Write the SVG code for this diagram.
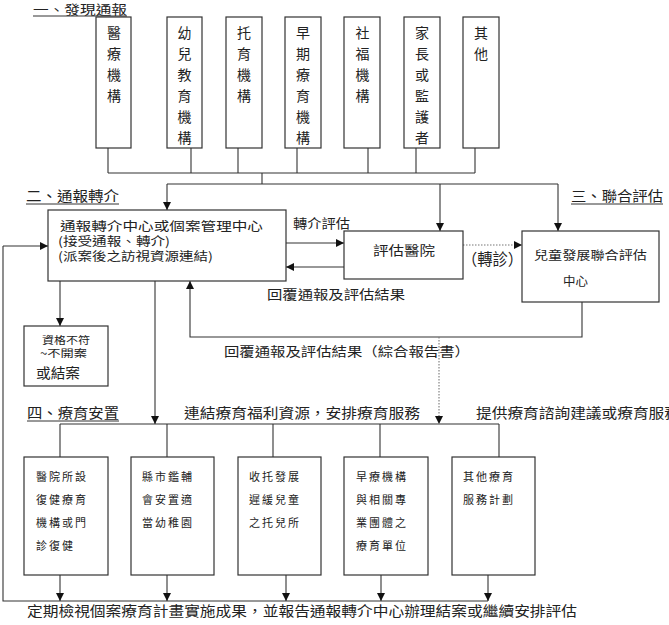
<svg xmlns="http://www.w3.org/2000/svg" width="669" height="625" viewBox="0 0 669 625">
<style>
text{font-family:"Noto Sans CJK TC","Noto Sans CJK SC",sans-serif;fill:#222}
.box{fill:#fff;stroke:#333;stroke-width:1.2}
.ln{fill:none;stroke:#333;stroke-width:1.1}
.dot{fill:none;stroke:#777;stroke-width:1.1;stroke-dasharray:1.5 1.5}
.v{font-size:14px}
.s{font-size:11px}
.m{font-size:13px}
.h{font-size:14px}
.ul{stroke:#333;stroke-width:1}
</style>
<defs>
<marker id="ah" markerUnits="userSpaceOnUse" markerWidth="8" markerHeight="8" refX="8" refY="4" orient="auto">
<path d="M0,0 L8,4 L0,8 z" fill="#111"/>
</marker>
</defs>
<rect width="669" height="625" fill="#fff"/>

<g id="sec-labels">
<text style="font-size:13px" x="33" y="14" textLength="94" lengthAdjust="spacingAndGlyphs">一、發現通報</text>
<line class="ul" x1="33" y1="16" x2="127" y2="16"/>
<text class="h" x="26" y="201" textLength="93" lengthAdjust="spacingAndGlyphs">二、通報轉介</text>
<line class="ul" x1="26" y1="204" x2="119" y2="204"/>
<text class="h" x="571" y="201" textLength="92" lengthAdjust="spacingAndGlyphs">三、聯合評估</text>
<line class="ul" x1="571" y1="204" x2="663" y2="204"/>
<text class="h" x="27" y="418" textLength="92" lengthAdjust="spacingAndGlyphs">四、療育安置</text>
<line class="ul" x1="27" y1="421" x2="119" y2="421"/>
</g>

<g id="connectors">
<path class="ln" d="M108,148 V173 M191,148 V173 M238,148 V173 M297,148 V173 M368,148 V173 M416,148 V173 M475,148 V173 M108,173 H475 M262,173 V184 M167,184 H558"/>
<path class="ln" d="M167,184 V210" marker-end="url(#ah)"/>
<path class="ln" d="M440,184 V231" marker-end="url(#ah)"/>
<path class="ln" d="M558,184 V231" marker-end="url(#ah)"/>
<path class="ln" d="M286,243 H344" marker-end="url(#ah)"/>
<path class="ln" d="M344,267 H286" marker-end="url(#ah)"/>
<path class="dot" d="M463,245 H522" marker-end="url(#ah)"/>
<path class="ln" d="M582,302 V337 H190 V281" marker-end="url(#ah)"/>
<path class="ln" d="M60,281 V326" marker-end="url(#ah)"/>
<path class="ln" d="M155,281 V424" marker-end="url(#ah)"/>
<path class="dot" d="M439,337 V424" marker-end="url(#ah)"/>
<path class="ln" d="M60,424 H499 M60,424 V457 M167,424 V457 M273,424 V457 M380,424 V457 M499,424 V457"/>
<path class="ln" d="M60,575 V601" marker-end="url(#ah)"/>
<path class="ln" d="M167,575 V601" marker-end="url(#ah)"/>
<path class="ln" d="M286,575 V601" marker-end="url(#ah)"/>
<path class="ln" d="M381,575 V601" marker-end="url(#ah)"/>
<path class="ln" d="M488,575 V601" marker-end="url(#ah)"/>
<path class="ln" d="M488,601 H3 V246"/>
<path class="ln" d="M3,246 H48" marker-end="url(#ah)"/>
</g>

<g id="n-medical"><rect class="box" x="96" y="17" width="35" height="131"/>
<text class="v" text-anchor="middle"><tspan x="114" y="38">醫</tspan><tspan x="114" dy="21">療</tspan><tspan x="114" dy="21">機</tspan><tspan x="114" dy="21">構</tspan></text></g>
<g id="n-preschool"><rect class="box" x="167" y="17" width="35" height="131"/>
<text class="v" text-anchor="middle"><tspan x="184.5" y="38">幼</tspan><tspan x="184.5" dy="21">兒</tspan><tspan x="184.5" dy="21">教</tspan><tspan x="184.5" dy="21">育</tspan><tspan x="184.5" dy="21">機</tspan><tspan x="184.5" dy="21">構</tspan></text></g>
<g id="n-nursery"><rect class="box" x="226" y="17" width="36" height="131"/>
<text class="v" text-anchor="middle"><tspan x="244" y="38">托</tspan><tspan x="244" dy="21">育</tspan><tspan x="244" dy="21">機</tspan><tspan x="244" dy="21">構</tspan></text></g>
<g id="n-early"><rect class="box" x="285" y="17" width="36" height="131"/>
<text class="v" text-anchor="middle"><tspan x="303" y="38">早</tspan><tspan x="303" dy="21">期</tspan><tspan x="303" dy="21">療</tspan><tspan x="303" dy="21">育</tspan><tspan x="303" dy="21">機</tspan><tspan x="303" dy="21">構</tspan></text></g>
<g id="n-welfare"><rect class="box" x="344" y="17" width="36" height="131"/>
<text class="v" text-anchor="middle"><tspan x="362.5" y="38">社</tspan><tspan x="362.5" dy="21">福</tspan><tspan x="362.5" dy="21">機</tspan><tspan x="362.5" dy="21">構</tspan></text></g>
<g id="n-parent"><rect class="box" x="404" y="17" width="36" height="131"/>
<text class="v" text-anchor="middle"><tspan x="422" y="38">家</tspan><tspan x="422" dy="21">長</tspan><tspan x="422" dy="21">或</tspan><tspan x="422" dy="21">監</tspan><tspan x="422" dy="21">護</tspan><tspan x="422" dy="21">者</tspan></text></g>
<g id="n-other"><rect class="box" x="463" y="17" width="36" height="131"/>
<text class="v" text-anchor="middle"><tspan x="481" y="38">其</tspan><tspan x="481" dy="21">他</tspan></text></g>

<g id="n-center"><rect class="box" x="48" y="210" width="238" height="71"/>
<text style="font-size:12.5px" x="60" y="231" textLength="203" lengthAdjust="spacingAndGlyphs">通報轉介中心或個案管理中心</text>
<text style="font-size:12px" x="58" y="246" textLength="112" lengthAdjust="spacingAndGlyphs">(接受通報、轉介)</text>
<text style="font-size:12px" x="58" y="261" textLength="155" lengthAdjust="spacingAndGlyphs">(派案後之訪視資源連結)</text></g>

<g id="lbl-mid">
<text class="m" x="293" y="228" textLength="57" lengthAdjust="spacingAndGlyphs">轉介評估</text>
<text class="m" x="267" y="299" textLength="138" lengthAdjust="spacingAndGlyphs">回覆通報及評估結果</text>
<text style="font-size:16px" x="462" y="265" textLength="61" lengthAdjust="spacingAndGlyphs">（轉診）</text>
<text class="m" x="224" y="356" textLength="246" lengthAdjust="spacingAndGlyphs">回覆通報及評估結果（綜合報告書）</text>
<text class="h" x="184" y="418" textLength="236" lengthAdjust="spacingAndGlyphs">連結療育福利資源，安排療育服務</text>
<text class="h" x="476" y="418" textLength="204" lengthAdjust="spacingAndGlyphs">提供療育諮詢建議或療育服務</text>
<text class="h" x="27" y="616" textLength="550" lengthAdjust="spacingAndGlyphs">定期檢視個案療育計畫實施成果，並報告通報轉介中心辦理結案或繼續安排評估</text>
</g>

<g id="n-hospital"><rect class="box" x="344" y="231" width="119" height="48"/>
<text class="m" x="373" y="255" textLength="62" lengthAdjust="spacingAndGlyphs">評估醫院</text></g>

<g id="n-joint"><rect class="box" x="522" y="231" width="137" height="71"/>
<text style="font-size:12px" x="534" y="260" textLength="113" lengthAdjust="spacingAndGlyphs">兒童發展聯合評估</text>
<text style="font-size:12px" x="563" y="286" textLength="25" lengthAdjust="spacingAndGlyphs">中心</text></g>

<g id="n-reject"><rect class="box" x="24" y="326" width="84" height="60"/>
<text style="font-size:10px" x="42" y="344" textLength="48" lengthAdjust="spacingAndGlyphs">資格不符</text>
<text style="font-size:10px" x="40" y="357" textLength="47" lengthAdjust="spacingAndGlyphs">~不開案</text>
<text class="h" x="36" y="378" textLength="44" lengthAdjust="spacingAndGlyphs">或結案</text></g>

<g id="n-p1"><rect class="box" x="24" y="457" width="84" height="118"/>
<text class="s" letter-spacing="2"><tspan x="36" y="481">醫院所設</tspan><tspan x="36" y="504">復健療育</tspan><tspan x="36" y="527">機構或門</tspan><tspan x="36" y="550">診復健</tspan></text></g>
<g id="n-p2"><rect class="box" x="131" y="457" width="83" height="118"/>
<text class="s" letter-spacing="2"><tspan x="142" y="481">縣市鑑輔</tspan><tspan x="142" y="504">會安置適</tspan><tspan x="142" y="527">當幼稚園</tspan></text></g>
<g id="n-p3"><rect class="box" x="238" y="457" width="83" height="118"/>
<text class="s" letter-spacing="2"><tspan x="249" y="481">收托發展</tspan><tspan x="249" y="504">遲緩兒童</tspan><tspan x="249" y="527">之托兒所</tspan></text></g>
<g id="n-p4"><rect class="box" x="344" y="457" width="84" height="118"/>
<text class="s" letter-spacing="2"><tspan x="356" y="481">早療機構</tspan><tspan x="356" y="504">與相關專</tspan><tspan x="356" y="527">業團體之</tspan><tspan x="356" y="550">療育單位</tspan></text></g>
<g id="n-p5"><rect class="box" x="452" y="457" width="83" height="118"/>
<text class="s" letter-spacing="2"><tspan x="463" y="481">其他療育</tspan><tspan x="463" y="504">服務計劃</tspan></text></g>
</svg>
